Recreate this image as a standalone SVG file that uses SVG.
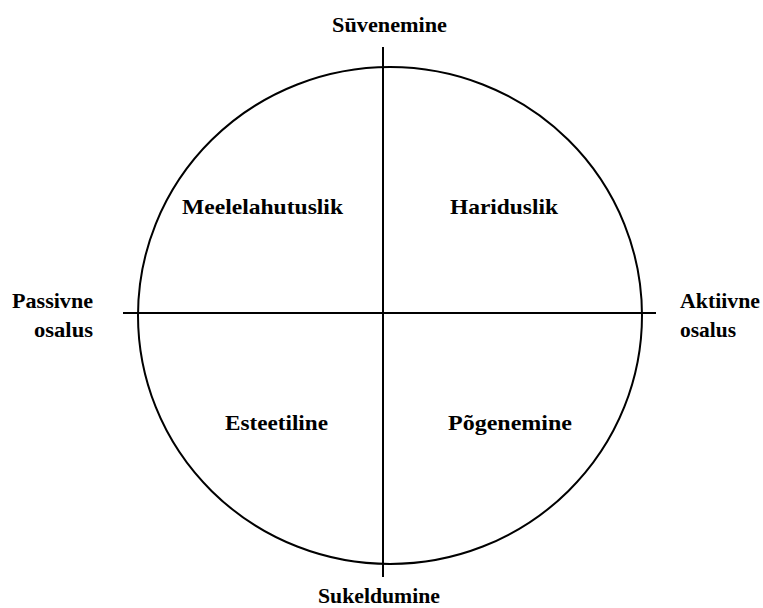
<svg xmlns="http://www.w3.org/2000/svg" width="763" height="608" viewBox="0 0 763 608">
<style>
.t{font-family:"Liberation Serif","Times New Roman",serif;font-weight:bold;font-size:22px;fill:#000}
.ln{stroke:#000;stroke-width:2;fill:none}
</style>
<rect width="763" height="608" fill="#fff"/>
<g id="circle"><ellipse class="ln" cx="390" cy="315.5" rx="252" ry="248.5"/></g>
<g id="connectors">
<line class="ln" x1="383" y1="47" x2="383" y2="577"/>
<line class="ln" x1="123" y1="313" x2="656" y2="313"/>
</g>
<g id="top"><text class="t" x="332" y="32" textLength="115" lengthAdjust="spacingAndGlyphs">Sūvenemine</text></g>
<g id="bottom"><text class="t" x="318" y="603" textLength="122" lengthAdjust="spacingAndGlyphs">Sukeldumine</text></g>
<g id="left"><text class="t" x="12" y="308" textLength="81" lengthAdjust="spacingAndGlyphs">Passivne</text><text class="t" x="34" y="337" textLength="59" lengthAdjust="spacingAndGlyphs">osalus</text></g>
<g id="right"><text class="t" x="680" y="308" textLength="80" lengthAdjust="spacingAndGlyphs">Aktiivne</text><text class="t" x="680" y="337" textLength="56" lengthAdjust="spacingAndGlyphs">osalus</text></g>
<g id="q1"><text class="t" x="182" y="214" textLength="161" lengthAdjust="spacingAndGlyphs">Meelelahutuslik</text></g>
<g id="q2"><text class="t" x="450" y="214" textLength="108" lengthAdjust="spacingAndGlyphs">Hariduslik</text></g>
<g id="q3"><text class="t" x="225" y="430" textLength="103" lengthAdjust="spacingAndGlyphs">Esteetiline</text></g>
<g id="q4"><text class="t" x="448" y="430" textLength="124" lengthAdjust="spacingAndGlyphs">Põgenemine</text></g>
</svg>
